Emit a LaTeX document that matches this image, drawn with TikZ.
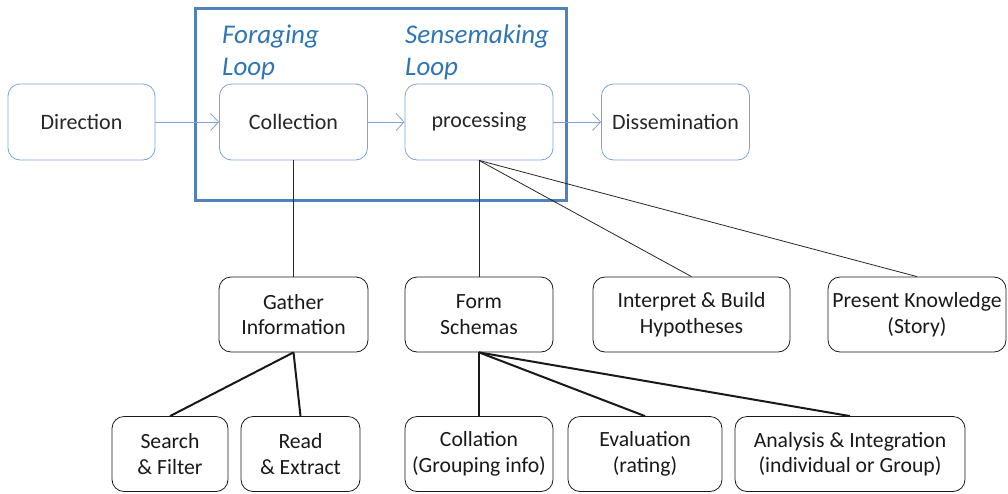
\documentclass[tikz,border=0pt]{standalone}
\usepackage{fontspec}
\setmainfont{Carlito}
\usetikzlibrary{positioning, arrows.meta}
\definecolor{loopblue}{RGB}{79,129,189}
\definecolor{boxblue}{RGB}{126,163,212}
\definecolor{labelblue}{RGB}{46,117,182}
\tikzset{
    stage/.style={draw=boxblue, thick, rounded corners=12pt, minimum width=148pt, minimum height=76pt, font=\fontsize{22}{26}\selectfont, text=black!85}, % top row boxes
    task/.style={draw=black!90, thick, rounded corners=12pt, minimum height=75pt, align=center, font=\fontsize{21.7}{25.5}\selectfont, text=black!90}, % lower boxes
    flow/.style={draw=boxblue, thick, -{Straight Barb[length=8pt,width=17pt]}},
    link/.style={draw=black!85, line width=0.8pt},
    biglink/.style={draw=black!90, line width=2pt},
    looplabel/.style={text=labelblue, font=\fontsize{27}{32}\selectfont\itshape, align=left, anchor=base west, inner sep=0pt},
}

\begin{document}
\begin{tikzpicture}[x=1pt, y=-1pt]
    \useasboundingbox (0,0) rectangle (1008,493);
    % the big loop frame
    \draw[loopblue, line width=3pt] (195,8) rectangle (566,200);
    \node[looplabel] (forage) at (222,75) {Foraging\\Loop};
    \node[looplabel] (sense) at (405,75) {Sensemaking\\Loop};
    % top row
    \node[stage, minimum width=147pt] (dir) at (81.5,122) {Direction};
    \node[stage, right of=dir, node distance=212pt] (coll) {Collection};
    \node[stage, right of=coll, node distance=185.5pt] (proc) {processing};
    \node[stage, right of=proc, node distance=196.5pt] (diss) {Dissemination};
    % middle row
    \node[task, minimum width=149pt, below of=coll, node distance=192.5pt] (gath) {Gather\\Information};
    \node[task, minimum width=148pt, below of=proc, node distance=192.5pt] (form) {Form\\Schemas};
    \node[task, minimum width=197pt, right of=form, node distance=212.5pt] (interp) {Interpret \& Build\\Hypotheses};
    \node[task, minimum width=178pt, right of=interp, node distance=225.5pt] (pres) {Present Knowledge\\(Story)};
    % bottom row
    \node[task, minimum width=116pt, below of=gath, node distance=139.5pt, xshift=-123.5pt] (search) {Search\\\& Filter};
    \node[task, minimum width=119pt, right of=search, node distance=130.5pt] (read) {Read\\\& Extract};
    \node[task, minimum width=148pt, below of=form, node distance=139.5pt] (colla) {Collation\\(Grouping info)};
    \node[task, minimum width=154pt, right of=colla, node distance=166pt] (eval) {Evaluation\\(rating)};
    \node[task, minimum width=230pt, right of=eval, node distance=205pt] (anal) {Analysis \& Integration\\(individual or Group)};
    % connectors
    \draw[flow] (dir) -- (coll);
    \draw[flow] (coll) -- (proc);
    \draw[flow] (proc) -- (diss);
    \draw[link] (coll.south) -- (gath.north);
    \draw[link] (proc.south) -- (form.north);
    \draw[link] (proc.south) -- (interp.north);
    \draw[link] (proc.south) -- (pres.north);
    \draw[biglink] (gath.south) -- (search.north);
    \draw[biglink] (gath.south) -- (read.north);
    \draw[biglink] (form.south) -- (colla.north);
    \draw[biglink] (form.south) -- (eval.north);
    \draw[biglink] (form.south) -- (anal.north);
\end{tikzpicture}
\end{document}
